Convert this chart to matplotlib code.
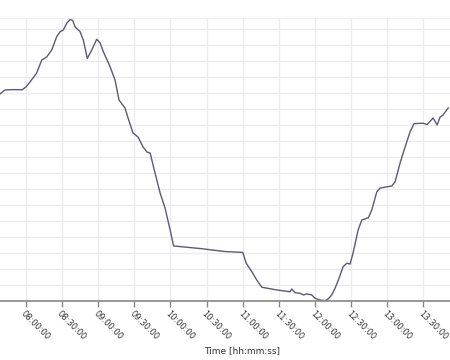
import matplotlib
matplotlib.use("Agg")
import matplotlib.pyplot as plt
import matplotlib.dates as mdates
import pandas as pd

# readings (y units arbitrary: one grid step = 1)
times = [
    "07:38:42", "07:42:48", "07:48:36", "07:55:18", "07:56:54", "08:00:12",
    "08:03:36", "08:09:06", "08:13:18", "08:17:24", "08:21:36", "08:25:42",
    "08:28:30", "08:31:12", "08:34:00", "08:36:48", "08:39:00", "08:40:54",
    "08:45:06", "08:47:48", "08:51:06", "08:54:48", "08:58:54", "09:01:42",
    "09:04:24", "09:10:00", "09:14:06", "09:17:24", "09:22:24", "09:24:54",
    "09:29:00", "09:33:12", "09:37:18", "09:40:42", "09:43:12", "09:47:18",
    "09:51:30", "09:55:36", "09:59:48", "10:02:42", "10:24:36", "10:45:24",
    "11:00:06", "11:02:48", "11:07:36", "11:11:42", "11:15:54", "11:28:18",
    "11:39:18", "11:40:42", "11:43:30", "11:47:36", "11:50:24", "11:53:12",
    "11:57:18", "12:00:06", "12:04:12", "12:08:24", "12:10:54", "12:13:54",
    "12:16:42", "12:19:24", "12:23:18", "12:26:24", "12:29:06", "12:31:36",
    "12:35:48", "12:38:48", "12:44:18", "12:47:06", "12:51:18", "12:54:00",
    "13:03:42", "13:06:30", "13:10:36", "13:14:48", "13:18:54", "13:22:12",
    "13:29:42", "13:33:00", "13:38:00", "13:41:18", "13:43:48", "13:46:18",
    "13:48:00", "13:50:30",
]
values = [
    12.94, 13.19, 13.21, 13.21, 13.19, 13.38,
    13.69, 14.25, 15.06, 15.25, 15.69, 16.52,
    16.83, 16.94, 17.36, 17.59, 17.53, 17.14,
    16.83, 16.31, 15.16, 15.69, 16.36, 16.13,
    15.58, 14.64, 13.81, 12.56, 12.06, 11.44,
    10.50, 10.25, 9.63, 9.31, 9.25, 8.00,
    6.75, 5.81, 4.44, 3.44, 3.28, 3.09,
    3.04, 2.38, 1.83, 1.31, 0.86, 0.69,
    0.58, 0.75, 0.52, 0.48, 0.38, 0.44,
    0.38, 0.17, 0.06, 0.02, 0.13, 0.38,
    0.81, 1.31, 2.14, 2.36, 2.31, 3.00,
    4.44, 5.06, 5.21, 5.69, 6.83, 7.06,
    7.19, 7.46, 8.63, 9.64, 10.58, 11.09,
    11.11, 11.03, 11.44, 11.00, 11.50, 11.63,
    11.81, 12.06,
]
x_start = "07:38:40"
x_end = "13:52:00"
day = "2020-01-01 "

t = pd.to_datetime([day + s for s in times])

fig = plt.figure(figsize=(4.5, 3.6), dpi=100)
ax = fig.add_axes([0.0, 59 / 360, 1.0, (301 - 18) / 360])

ax.plot(t, values, color="#5b5a78", lw=1.0)

ax.set_xlim(pd.Timestamp(day + x_start), pd.Timestamp(day + x_end))
ax.set_ylim(0, 283 / 16)

ax.xaxis.set_major_locator(mdates.MinuteLocator(byminute=[0, 30]))
ax.xaxis.set_major_formatter(mdates.DateFormatter("%H:%M:%S"))
ax.set_yticks(range(0, 18))
ax.tick_params(axis="y", left=False, labelleft=False)
ax.tick_params(axis="x", direction="out", length=4, width=1, color="#888888",
               labelsize=6, labelcolor="#333333", pad=2)
for lab in ax.get_xticklabels():
    lab.set_rotation(-45)
    lab.set_ha("left")
    lab.set_va("top")
    lab.set_rotation_mode("anchor")

ax.grid(True, color="#ecebf0", lw=1.0)
ax.set_axisbelow(True)
for side in ("left", "right"):
    ax.spines[side].set_visible(False)
ax.spines["top"].set_color("#f0eff3")
ax.spines["bottom"].set_color("#888888")
ax.spines["bottom"].set_linewidth(1.2)

fig.text(242 / 450, 1 - 351 / 360, "Time [hh:mm:ss]", ha="center", va="center",
         fontsize=6.5, color="#333333")

fig.savefig("out.png", dpi=100)
